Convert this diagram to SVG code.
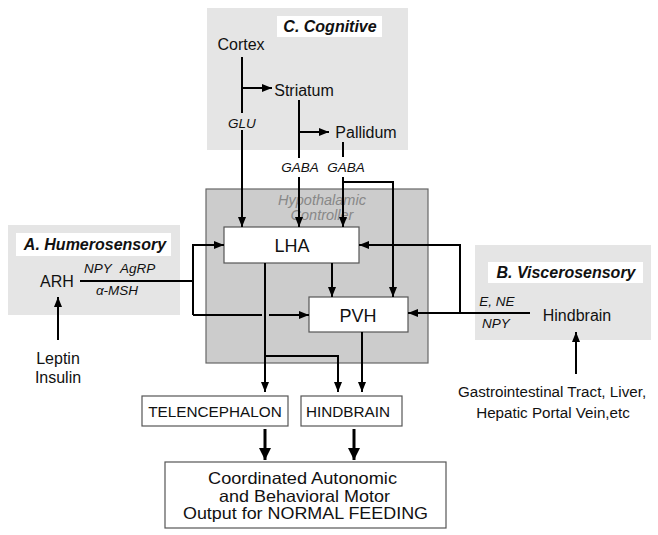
<svg xmlns="http://www.w3.org/2000/svg" width="658" height="535" viewBox="0 0 658 535">
<defs>
<marker id="ah" viewBox="0 0 10 8" refX="10" refY="4" markerWidth="10" markerHeight="8" markerUnits="userSpaceOnUse" orient="auto"><path d="M0,0 L10,4 L0,8 z" fill="#000"/></marker>
<marker id="ahb" viewBox="0 0 12 12" refX="12" refY="6" markerWidth="12" markerHeight="12" markerUnits="userSpaceOnUse" orient="auto"><path d="M0,0 L12,6 L0,12 z" fill="#000"/></marker>
</defs>
<style>
text{font-family:"Liberation Sans",Arial,sans-serif;fill:#111}
.reg{fill:#e5e5e5;stroke:none}
.lab{fill:#fff;stroke:none}
.ttl{font-weight:bold;font-style:italic;font-size:16px}
.nm{font-size:16px}
.it{font-style:italic;font-size:13.5px}
.out{font-size:16.5px}
.box{fill:#fff;stroke:#555;stroke-width:1.2}
.ln{fill:none;stroke:#000;stroke-width:2}
.arr{fill:none;stroke:#000;stroke-width:2;marker-end:url(#ah)}
.thick{fill:none;stroke:#000;stroke-width:3;marker-end:url(#ahb)}
</style>
<rect width="658" height="535" fill="#fff"/>
<g id="cognitive">
<rect class="reg" x="207" y="8" width="201" height="142"/>
<rect class="lab" x="277" y="16" width="105" height="21"/>
<text class="ttl" x="330" y="32" text-anchor="middle">C. Cognitive</text>
<text class="nm" x="241" y="50" text-anchor="middle">Cortex</text>
<text class="nm" x="304" y="96" text-anchor="middle">Striatum</text>
<text class="nm" x="366" y="138" text-anchor="middle">Pallidum</text>
</g>
<g id="humerosensory">
<rect class="reg" x="8" y="225" width="172" height="90"/>
<rect class="lab" x="16" y="233" width="155" height="23"/>
<text class="ttl" x="95" y="250" text-anchor="middle">A. Humerosensory</text>
<text class="nm" x="57" y="287" text-anchor="middle">ARH</text>
<text class="nm" x="58" y="364" text-anchor="middle">Leptin</text>
<text class="nm" x="58" y="383" text-anchor="middle">Insulin</text>
</g>
<g id="viscerosensory">
<rect class="reg" x="475" y="245" width="176" height="95"/>
<rect class="lab" x="488" y="262" width="155" height="21"/>
<text class="ttl" x="566" y="278" text-anchor="middle">B. Viscerosensory</text>
<text class="nm" x="577" y="321" text-anchor="middle">Hindbrain</text>
<text x="552" y="397" text-anchor="middle" font-size="15.2">Gastrointestinal Tract, Liver,</text>
<text x="553" y="418" text-anchor="middle" font-size="15.2">Hepatic Portal Vein,etc</text>
</g>
<g id="hypothalamic">
<rect x="206" y="189" width="222" height="174" fill="#cccccc" stroke="#666" stroke-width="1.2"/>
<text x="322" y="205" text-anchor="middle" font-style="italic" font-size="14.5" style="fill:#888">Hypothalamic</text>
<text x="322" y="220" text-anchor="middle" font-style="italic" font-size="14.5" style="fill:#888">Controller</text>
</g>
<g id="lha">
<rect class="box" x="224" y="227" width="135" height="36"/>
<text x="292" y="252" text-anchor="middle" font-size="18">LHA</text>
</g>
<g id="pvh">
<rect class="box" x="309" y="297" width="99" height="35"/>
<text x="358" y="322" text-anchor="middle" font-size="18">PVH</text>
</g>
<g id="telencephalon">
<rect class="box" x="142" y="396" width="146" height="30"/>
<text x="215" y="417" text-anchor="middle" font-size="15.3">TELENCEPHALON</text>
</g>
<g id="hindbrain-out">
<rect class="box" x="301" y="396" width="101" height="30"/>
<text x="348" y="417" text-anchor="middle" font-size="15.3">HINDBRAIN</text>
</g>
<g id="output">
<rect class="box" x="165" y="462" width="281" height="66"/>
<text class="out" x="208" y="484" textLength="189" lengthAdjust="spacingAndGlyphs">Coordinated Autonomic</text>
<text class="out" x="219" y="501.5" textLength="171" lengthAdjust="spacingAndGlyphs">and Behavioral Motor</text>
<text class="out" x="183" y="519" textLength="245" lengthAdjust="spacingAndGlyphs">Output for NORMAL FEEDING</text>
</g>
<g id="connectors">
<path class="ln" d="M242,57 V113"/>
<path class="arr" d="M242,130 V227"/>
<path class="arr" d="M242,88 H272"/>
<text class="it" x="242" y="128" text-anchor="middle">GLU</text>
<path class="ln" d="M299,100 V158"/>
<path class="arr" d="M299,177 V227"/>
<path class="arr" d="M299,132 H329"/>
<text class="it" x="300" y="172" text-anchor="middle">GABA</text>
<path class="ln" d="M343,142 V157"/>
<path class="arr" d="M343,177 V227"/>
<path class="arr" d="M343,182 H393 V297"/>
<text class="it" x="346" y="172" text-anchor="middle">GABA</text>
<path class="ln" d="M80,281 H193"/>
<path class="arr" d="M193,315 V245 H224"/>
<path class="ln" d="M193,315 H262"/>
<path class="arr" d="M269,315 H309"/>
<text class="it" x="84" y="273">NPY</text>
<text class="it" x="120" y="273">AgRP</text>
<text class="it" x="117" y="295" text-anchor="middle">α-MSH</text>
<path class="arr" d="M58,340 V297"/>
<path class="arr" d="M332,263 V297"/>
<path class="arr" d="M530,313 H408"/>
<path class="arr" d="M460,313 V245 H359"/>
<text class="it" x="497" y="306" text-anchor="middle">E, NE</text>
<text class="it" x="496" y="328" text-anchor="middle">NPY</text>
<path class="arr" d="M576,374 V332"/>
<path class="arr" d="M265,263 V392"/>
<path class="arr" d="M265,356 H338 V392"/>
<path class="arr" d="M362,332 V392"/>
<path class="thick" d="M265,429 V460"/>
<path class="thick" d="M354,429 V460"/>
</g>
</svg>
